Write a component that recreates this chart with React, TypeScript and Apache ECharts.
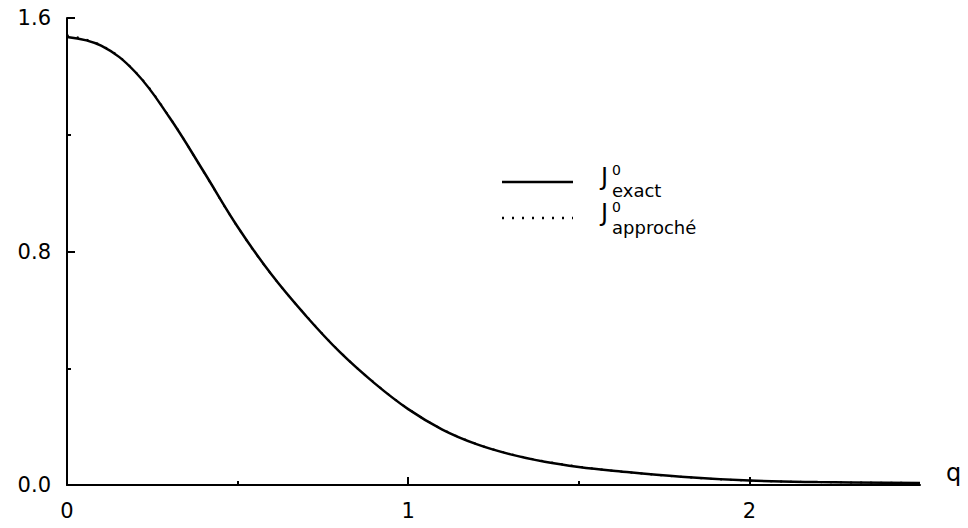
import React, { useEffect, useRef } from "react";
import * as echarts from "echarts";

const qValues = [0, 0.1, 0.2, 0.3, 0.4, 0.5, 0.6, 0.7, 0.8, 0.9, 1.0, 1.1, 1.2, 1.3, 1.4, 1.5, 1.6, 1.8, 2.0, 2.2, 2.5];
const jExact = [1.535, 1.505, 1.415, 1.26, 1.075, 0.885, 0.72, 0.58, 0.455, 0.35, 0.26, 0.19, 0.14, 0.105, 0.08, 0.062, 0.049, 0.028, 0.015, 0.01, 0.007];
const jApproche = [1.54, 1.507, 1.416, 1.261, 1.074, 0.884, 0.72, 0.581, 0.456, 0.351, 0.261, 0.191, 0.141, 0.106, 0.081, 0.063, 0.049, 0.028, 0.015, 0.01, 0.007];
const xMajorTicks = [0, 1, 2];
const xMinorTicks = [0.5, 1.5];
const yTickLabels = ["0.0", "0.8", "1.6"];

export default function App() {
  const ref = useRef<HTMLDivElement>(null);
  useEffect(() => {
    if (!ref.current) return;
    const chart = echarts.init(ref.current, null, { renderer: "svg" });
    const font = "DejaVu Sans";
    chart.setOption({
      animation: false,
      backgroundColor: "#ffffff",
      grid: { left: 67, right: 48, top: 18, bottom: 43, containLabel: false },
      xAxis: [
        {
          type: "value",
          min: 0,
          max: 2.5,
          interval: 1,
          name: "q",
          nameLocation: "end",
          nameGap: 26,
          nameTextStyle: { color: "#000", fontSize: 24, fontFamily: font, verticalAlign: "bottom" },
          axisLine: { show: true, lineStyle: { color: "#000", width: 2 } },
          axisTick: { show: true, inside: true, length: 8, customValues: xMajorTicks, lineStyle: { color: "#000", width: 2 } },
          axisLabel: { customValues: xMajorTicks, color: "#000", fontSize: 21, fontFamily: font, margin: 15, formatter: (v: number) => String(v) },
          splitLine: { show: false },
        },
        {
          type: "value",
          min: 0,
          max: 2.5,
          position: "bottom",
          axisLine: { show: false },
          axisTick: { show: true, inside: true, length: 4, customValues: xMinorTicks, lineStyle: { color: "#000", width: 2 } },
          axisLabel: { show: false },
          splitLine: { show: false },
        },
      ],
      yAxis: {
        type: "value",
        min: 0,
        max: 1.6,
        interval: 0.8,
        axisLine: { show: true, lineStyle: { color: "#000", width: 2 } },
        axisTick: { show: true, inside: true, length: 8, lineStyle: { color: "#000", width: 2 } },
        minorTick: { show: true, splitNumber: 2, length: 4, lineStyle: { color: "#000", width: 2 } },
        axisLabel: {
          color: "#000",
          fontSize: 21,
          fontFamily: font,
          margin: 16,
          formatter: (v: number) => yTickLabels[Math.round(v / 0.8)] ?? v.toFixed(1),
        },
        splitLine: { show: false },
      },
      series: [
        {
          name: "J0 exact",
          type: "line",
          xAxisIndex: 0,
          data: qValues.map((q, i) => [q, jExact[i]]),
          smooth: 0.4,
          showSymbol: false,
          lineStyle: { color: "#000", width: 2.5, type: "solid" },
        },
        {
          name: "J0 approché",
          type: "line",
          xAxisIndex: 0,
          data: qValues.map((q, i) => [q, jApproche[i]]),
          smooth: 0.4,
          showSymbol: false,
          lineStyle: { color: "#000", width: 2, type: [2, 8] },
        },
      ],
      graphic: [
        { type: "line", shape: { x1: 502, y1: 182, x2: 573, y2: 182 }, style: { stroke: "#000", lineWidth: 2.5 } },
        { type: "line", shape: { x1: 502, y1: 218, x2: 573, y2: 218 }, style: { stroke: "#000", lineWidth: 2.5, lineDash: [2, 8] } },
        { type: "text", x: 601, y: 189, style: { text: "J", fill: "#000", fontSize: 24, fontFamily: font, textVerticalAlign: "bottom" } },
        { type: "text", x: 612, y: 170, style: { text: "0", fill: "#000", fontSize: 14, fontFamily: font, textVerticalAlign: "middle" } },
        { type: "text", x: 612, y: 190, style: { text: "exact", fill: "#000", fontSize: 18, fontFamily: font, textVerticalAlign: "middle" } },
        { type: "text", x: 601, y: 225, style: { text: "J", fill: "#000", fontSize: 24, fontFamily: font, textVerticalAlign: "bottom" } },
        { type: "text", x: 612, y: 207, style: { text: "0", fill: "#000", fontSize: 14, fontFamily: font, textVerticalAlign: "middle" } },
        { type: "text", x: 612, y: 227, style: { text: "approché", fill: "#000", fontSize: 18, fontFamily: font, textVerticalAlign: "middle" } },
      ],
    });
    return () => chart.dispose();
  }, []);
  return <div ref={ref} style={{ position: "fixed", left: 0, top: 0, width: 968, height: 528 }} />;
}
